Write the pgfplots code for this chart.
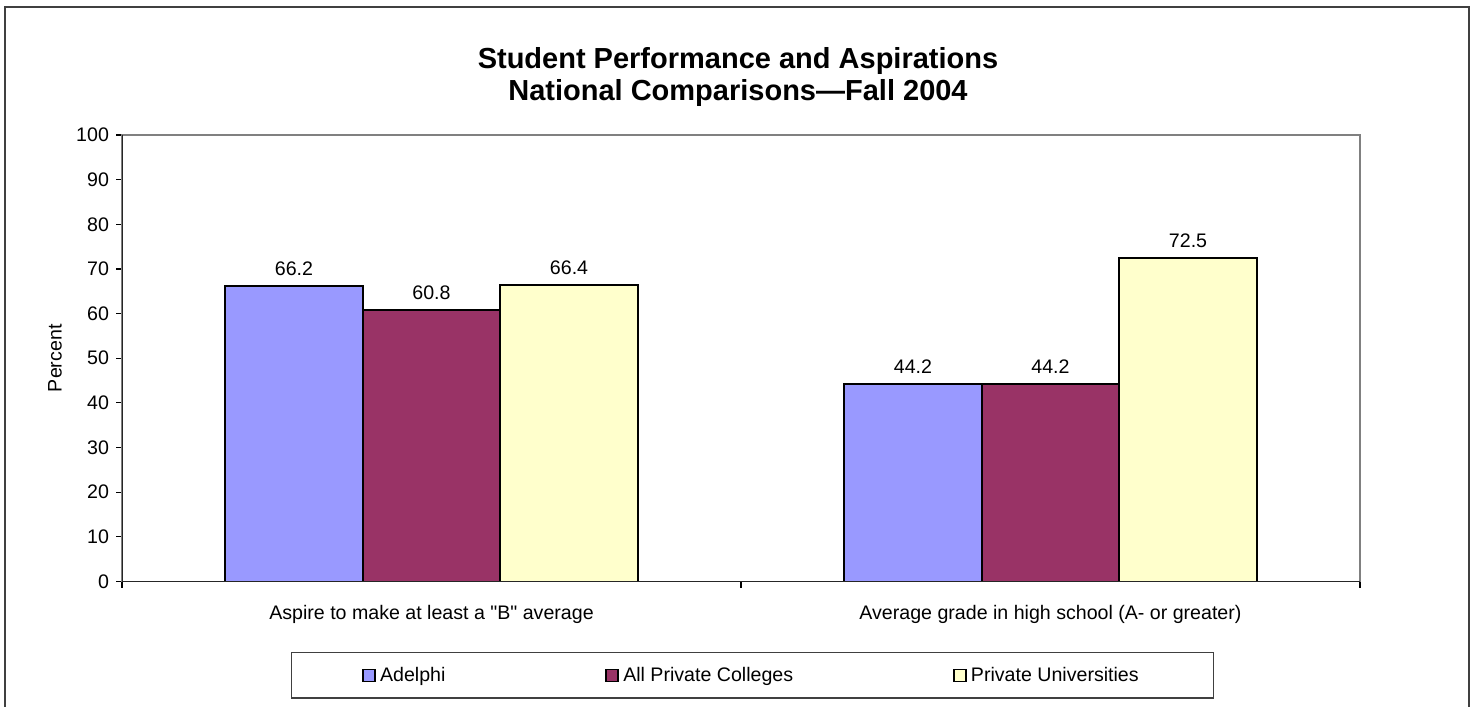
\documentclass[border=0pt]{standalone}
\usepackage{fontspec}
\setmainfont{Liberation Sans}[Ligatures=TeXOff]
\usepackage{pgfplots}
\pgfplotsset{compat=1.18}
\definecolor{adelphi}{HTML}{9999FF}
\definecolor{colleges}{HTML}{993366}
\definecolor{univ}{HTML}{FFFFCC}
\begin{document}
\begin{tikzpicture}
\useasboundingbox (0,0) rectangle (737pt,353.5pt);
% outer chart frame (bottom edge is cut off in the original)
\draw[line width=1pt, black!75] (2.5pt,0) -- (2.5pt,350pt) -- (734.5pt,350pt) -- (734.5pt,0);
\node[font=\bfseries\fontsize{14.5}{16}\selectfont, align=center] at (369pt,315pt)
  {Student Performance and Aspirations\\National Comparisons—Fall 2004};
\begin{axis}[
  at={(61pt,62.75pt)}, anchor=south west,
  scale only axis, width=619pt, height=223.25pt,
  font=\fontsize{9.8}{11}\selectfont,
  /pgf/number format/assume math mode=true,
  xmin=0, xmax=2, ymin=0, ymax=100,
  ytick={0,10,...,100},
  xtick={0,1,2}, xticklabels={},
  extra x ticks={0.5,1.5},
  extra x tick labels={Aspire to make at least a "B" average, Average grade in high school (A- or greater)},
  extra x tick style={major tick length=0pt, xticklabel style={yshift=-8.5pt}},
  xtick pos=bottom, ytick pos=left,
  tick align=outside,
  major tick length=3pt,
  tick style={black, line width=0.6pt},
  axis line style={draw=gray, line width=0.8pt},
  ylabel={Percent},
  ylabel style={at={(axis description cs:-0.0541,0.5)}, anchor=center},
  ybar, bar width=0.2222,
  nodes near coords,
  nodes near coords style={font=\fontsize{9.8}{11}\selectfont, yshift=1.5pt,
    /pgf/number format/.cd, fixed, precision=1, fixed zerofill},
  legend image code/.code={\draw[#1, line width=0.9pt] (0pt,-3pt) rectangle (6pt,3pt);},
  legend columns=3,
  legend style={at={(rel axis cs:0.5093,-0.2105)}, anchor=center,
    draw=black!75, line width=0.6pt, inner xsep=35.5pt, inner ysep=5pt,
    font=\fontsize{9.8}{11}\selectfont,
    /tikz/every even column/.append style={column sep=78pt}},
]
\addplot[fill=adelphi, draw=black, line width=0.8pt, bar shift=-0.2222]
  coordinates {(0.5,66.2) (1.5,44.2)};
\addplot[fill=colleges, draw=black, line width=0.8pt, bar shift=0]
  coordinates {(0.5,60.8) (1.5,44.2)};
\addplot[fill=univ, draw=black, line width=0.8pt, bar shift=0.2222]
  coordinates {(0.5,66.4) (1.5,72.5)};
\legend{Adelphi, All Private Colleges, Private Universities}
\draw[black!85, line width=0.8pt] (rel axis cs:0,1) -- (rel axis cs:0,0) -- (rel axis cs:1,0);
\end{axis}
\end{tikzpicture}
\end{document}
